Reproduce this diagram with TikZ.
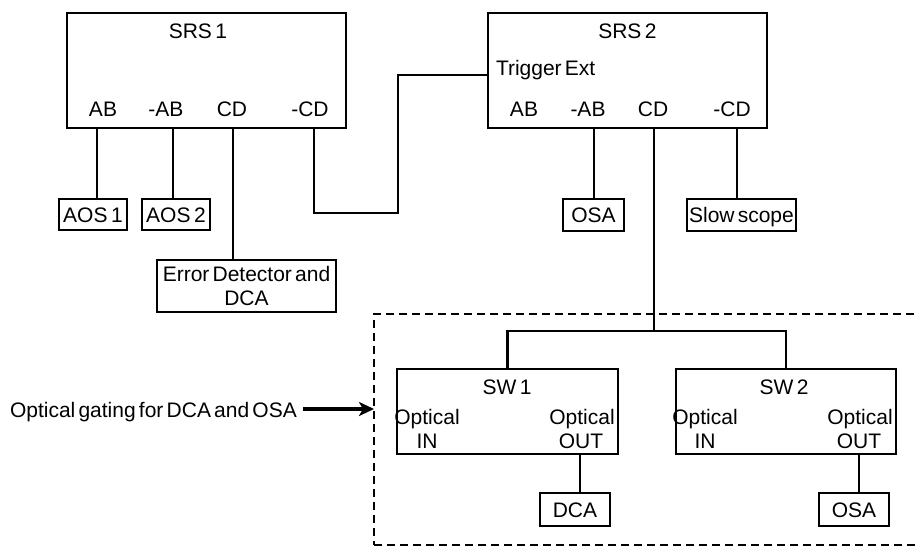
\documentclass[tikz,border=0pt]{standalone}
\usepackage{fontspec}
\setmainfont{Liberation Sans}[WordSpace=0.55]
\usetikzlibrary{arrows.meta,calc}
\begin{document}
\begin{tikzpicture}[x=1pt,y=-1pt,
  every node/.style={font=\fontsize{21}{24}\selectfont, inner sep=0pt, outer sep=0pt},
  box/.style={draw, line width=2.4pt, text height=15pt, text depth=0pt},
  lbl/.style={anchor=base},
  thinwire/.style={line width=1.5pt},
  thickwire/.style={line width=2.4pt},
  region/.style={draw, line width=2.2pt, dash pattern=on 8pt off 5pt},
  gatearrow/.style={line width=3.2pt, -{Stealth[length=15pt,width=14pt,inset=4pt]}}
]
\useasboundingbox (0,0) rectangle (916,547);

% main boxes
\node[box, minimum width=279, minimum height=115] (srs1) at (206.5,70.5) {};
\node[box, minimum width=279, minimum height=115] (srs2) at (627.5,70.5) {};

% SRS1 labels
\node[lbl] (srs1t) at (198,38.5) {SRS\,1};
\node[lbl] (s1ab) at (103,116) {AB};
\node[lbl] (s1nab) at (166,116) {-AB};
\node[lbl] (s1cd) at (232,116) {CD};
\node[lbl] (s1ncd) at (310,116) {-CD};

% SRS2 labels
\node[lbl] (srs2t) at (627.5,38.5) {SRS\,2};
\node[anchor=base west] (trigt) at (496,75.5) {Trigger Ext};
\node[lbl] (s2ab) at (524,116) {AB};
\node[lbl] (s2nab) at (588,116) {-AB};
\node[lbl] (s2cd) at (653,116) {CD};
\node[lbl] (s2ncd) at (732,116) {-CD};

% small boxes
\node[box, minimum width=68, minimum height=31] (aos1) at (93,214.5) {AOS\,1};
\node[box, minimum width=68, minimum height=31] (aos2) at (176,214.5) {AOS\,2};
\node[draw, line width=2.4pt, minimum width=179, minimum height=52, align=center] (errdet) at (246.5,286) {Error Detector and\\DCA};
\node[box, minimum width=61, minimum height=32] (osa1) at (593.5,215) {OSA};
\node[box, minimum width=109, minimum height=32] (slow) at (741.5,215) {Slow scope};

% dashed region
\node[region, minimum width=551, minimum height=231] (zone) at (649.5,429.5) {};

% switches
\node[box, minimum width=221, minimum height=85, fill=white] (sw1) at (507.5,411.5) {};
\node[box, minimum width=220, minimum height=85, fill=white] (sw2) at (786,411.5) {};
\node[lbl] (sw1t) at (507,394) {SW\,1};
\node[lbl] (sw1i) at (427,424) {Optical};
\node[lbl] (sw1in) at (427,448) {IN};
\node[lbl] (sw1o) at (582,424) {Optical};
\node[lbl] (sw1out) at (581,448) {OUT};
\node[lbl] (sw2t) at (784,394) {SW\,2};
\node[lbl] (sw2i) at (705,424) {Optical};
\node[lbl] (sw2in) at (705,448) {IN};
\node[lbl] (sw2o) at (860,424) {Optical};
\node[lbl] (sw2out) at (859,448) {OUT};

\node[box, minimum width=70, minimum height=33] (dca) at (575,509.5) {DCA};
\node[box, minimum width=70, minimum height=33] (osa2) at (854,509.5) {OSA};

% gating text and arrow
\node[anchor=base west] (gate) at (10,417) {Optical gating for DCA and OSA};

% ports
\coordinate (pab1) at ([xshift=30]srs1.south west);
\coordinate (pnab1) at ([xshift=106]srs1.south west);
\coordinate (pcd1) at ([xshift=166]srs1.south west);
\coordinate (pncd1) at ([xshift=247]srs1.south west);
\coordinate (pnab2) at ([xshift=106]srs2.south west);
\coordinate (pcd2) at ([xshift=166]srs2.south west);
\coordinate (pncd2) at ([xshift=249]srs2.south west);
\coordinate (trig) at ([yshift=-4.5]srs2.west);
\coordinate (jog) at (398,213);
\coordinate (split) at (654,331);
\coordinate (pout1) at ([xshift=183]sw1.south west);
\coordinate (pout2) at ([xshift=183]sw2.south west);
\coordinate (arrstart) at ([xshift=6,yshift=8]gate.base east);

% connectors
\draw[thinwire] (pab1) -- (pab1 |- aos1.north);
\draw[thinwire] (pnab1) -- (pnab1 |- aos2.north);
\draw[thinwire] (pcd1) -- (pcd1 |- errdet.north);
\draw[thickwire] (pncd1) |- (jog) |- (trig);
\draw[line width=1.8pt] (pnab2) -- (pnab2 |- osa1.north);
\draw[line width=1.8pt] (pncd2) -- (pncd2 |- slow.north);
\draw[thinwire] (pcd2) -- (split);
\draw[thickwire] (sw1.north) |- (split) -| (sw2.north);
\draw[thickwire] (pout1) -- (pout1 |- dca.north);
\draw[thickwire] (pout2) -- (pout2 |- osa2.north);
\draw[gatearrow] (arrstart) -- (arrstart -| zone.west);
\end{tikzpicture}
\end{document}
